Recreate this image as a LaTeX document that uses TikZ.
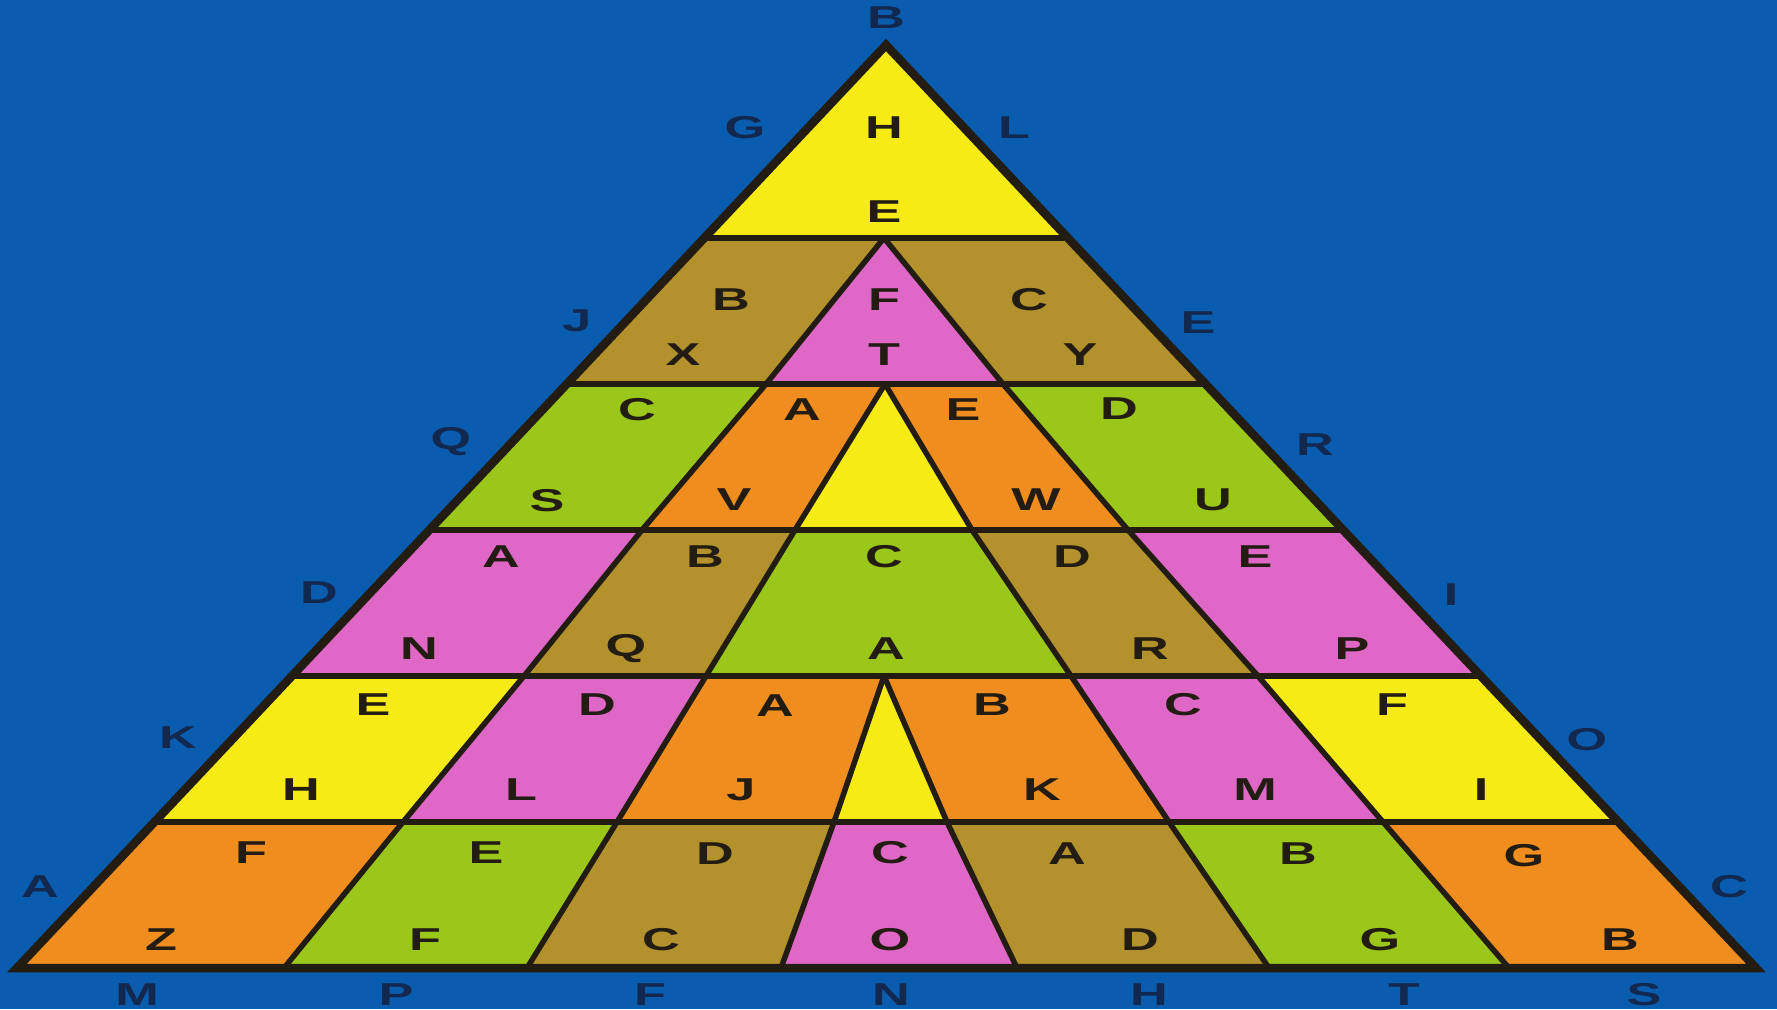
\documentclass[tikz,border=0pt]{standalone}
\usepackage{fontspec}
\usepackage{tikz}
\newfontfamily\puzzlefont[FakeStretch=1.65]{Liberation Sans}
\definecolor{sheetblue}{HTML}{0A5CAE}
\definecolor{cellyellow}{HTML}{F7EB15}
\definecolor{cellolive}{HTML}{B3922D}
\definecolor{cellpink}{HTML}{DF68C6}
\definecolor{cellgreen}{HTML}{9BC71B}
\definecolor{cellorange}{HTML}{F08D1F}
\definecolor{inkdark}{HTML}{221C12}
\definecolor{navyink}{HTML}{12284F}

\begin{document}
\begin{tikzpicture}[x=0.1mm, y=-0.1mm,
  seam/.style={draw=inkdark, line width=0.55mm, line join=round},
  rim/.style={draw=inkdark, line width=0.85mm, line join=miter},
  letter/.style={font=\puzzlefont\bfseries\fontsize{9pt}{9pt}\selectfont, text=inkdark, inner sep=0pt},
  rimletter/.style={letter, text=navyink}]
  \fill[sheetblue] (0,0) rectangle (1777,1009);
  \useasboundingbox (0,0) rectangle (1777,1009);

  \coordinate (apex) at (886,45);
  \coordinate (ol1) at (703,238);  \coordinate (or1) at (1064,238);
  \coordinate (ol2) at (567,384);  \coordinate (or2) at (1205,384);
  \coordinate (ol3) at (427,530);  \coordinate (or3) at (1341,530);
  \coordinate (ol4) at (293,676);  \coordinate (or4) at (1478,676);
  \coordinate (ol5) at (158,822);  \coordinate (or5) at (1617,822);
  \coordinate (ol6) at (17,968);   \coordinate (or6) at (1756,968);
  \coordinate (p1) at (884,238);
  \coordinate (a2) at (766,384); \coordinate (a3) at (642,530); \coordinate (a4) at (524,676);
  \coordinate (a5) at (403,822); \coordinate (a6) at (284,968);
  \coordinate (f2) at (1003,384); \coordinate (f3) at (1128,530); \coordinate (f4) at (1258,676);
  \coordinate (f5) at (1383,822); \coordinate (f6) at (1509,968);
  \coordinate (p2) at (885,384);
  \coordinate (b3) at (795,530); \coordinate (b4) at (706,676); \coordinate (b5) at (617,822); \coordinate (b6) at (527,968);
  \coordinate (e3) at (972,530); \coordinate (e4) at (1071,676); \coordinate (e5) at (1169,822); \coordinate (e6) at (1269,968);
  \coordinate (p4) at (884,676);
  \coordinate (c5) at (834,822); \coordinate (c6) at (781,968);
  \coordinate (d5) at (947,822); \coordinate (d6) at (1017,968);

  \fill[cellyellow] (apex) -- (or1) -- (ol1) -- cycle;
  \fill[cellolive] (ol1) -- (p1) -- (a2) -- (ol2) -- cycle;
  \fill[cellpink] (p1) -- (f2) -- (a2) -- cycle;
  \fill[cellolive] (p1) -- (or1) -- (or2) -- (f2) -- cycle;
  \fill[cellgreen] (ol2) -- (a2) -- (a3) -- (ol3) -- cycle;
  \fill[cellorange] (a2) -- (p2) -- (b3) -- (a3) -- cycle;
  \fill[cellyellow] (p2) -- (e3) -- (b3) -- cycle;
  \fill[cellorange] (p2) -- (f2) -- (f3) -- (e3) -- cycle;
  \fill[cellgreen] (f2) -- (or2) -- (or3) -- (f3) -- cycle;
  \fill[cellpink] (ol3) -- (a3) -- (a4) -- (ol4) -- cycle;
  \fill[cellolive] (a3) -- (b3) -- (b4) -- (a4) -- cycle;
  \fill[cellgreen] (b3) -- (e3) -- (e4) -- (b4) -- cycle;
  \fill[cellolive] (e3) -- (f3) -- (f4) -- (e4) -- cycle;
  \fill[cellpink] (f3) -- (or3) -- (or4) -- (f4) -- cycle;
  \fill[cellyellow] (ol4) -- (a4) -- (a5) -- (ol5) -- cycle;
  \fill[cellpink] (a4) -- (b4) -- (b5) -- (a5) -- cycle;
  \fill[cellorange] (b4) -- (p4) -- (c5) -- (b5) -- cycle;
  \fill[cellyellow] (p4) -- (d5) -- (c5) -- cycle;
  \fill[cellorange] (p4) -- (e4) -- (e5) -- (d5) -- cycle;
  \fill[cellpink] (e4) -- (f4) -- (f5) -- (e5) -- cycle;
  \fill[cellyellow] (f4) -- (or4) -- (or5) -- (f5) -- cycle;
  \fill[cellorange] (ol5) -- (a5) -- (a6) -- (ol6) -- cycle;
  \fill[cellgreen] (a5) -- (b5) -- (b6) -- (a6) -- cycle;
  \fill[cellolive] (b5) -- (c5) -- (c6) -- (b6) -- cycle;
  \fill[cellpink] (c5) -- (d5) -- (d6) -- (c6) -- cycle;
  \fill[cellolive] (d5) -- (e5) -- (e6) -- (d6) -- cycle;
  \fill[cellgreen] (e5) -- (f5) -- (f6) -- (e6) -- cycle;
  \fill[cellorange] (f5) -- (or5) -- (or6) -- (f6) -- cycle;

  \draw[seam] (ol1) -- (or1);
  \draw[seam] (ol2) -- (or2);
  \draw[seam] (ol3) -- (or3);
  \draw[seam] (ol4) -- (or4);
  \draw[seam] (ol5) -- (or5);
  \draw[seam] (p1) -- (a2) -- (a3) -- (a4) -- (a5) -- (a6);
  \draw[seam] (p1) -- (f2) -- (f3) -- (f4) -- (f5) -- (f6);
  \draw[seam] (p2) -- (b3) -- (b4) -- (b5) -- (b6);
  \draw[seam] (p2) -- (e3) -- (e4) -- (e5) -- (e6);
  \draw[seam] (p4) -- (c5) -- (c6);
  \draw[seam] (p4) -- (d5) -- (d6);
  \draw[rim] (apex) -- (or6) -- (ol6) -- cycle;

  \node[letter] (r0t) at (884,128) {H};
  \node[letter] (r0b) at (884,212) {E};
  \node[letter] (r1c1t) at (731,300) {B};
  \node[letter] (r1c1b) at (683,355) {X};
  \node[letter] (r1c2t) at (884,300) {F};
  \node[letter] (r1c2b) at (884,355) {T};
  \node[letter] (r1c3t) at (1029,300) {C};
  \node[letter] (r1c3b) at (1080,355) {Y};
  \node[letter] (r2c1t) at (637,410) {C};
  \node[letter] (r2c1b) at (547,501) {S};
  \node[letter] (r2c2t) at (802,410) {A};
  \node[letter] (r2c2b) at (734,500) {V};
  \node[letter] (r2c4t) at (963,410) {E};
  \node[letter] (r2c4b) at (1036,500) {W};
  \node[letter] (r2c5t) at (1119,409) {D};
  \node[letter] (r2c5b) at (1213,500) {U};
  \node[letter] (r3c1t) at (501,557) {A};
  \node[letter] (r3c1b) at (419,649) {N};
  \node[letter] (r3c2t) at (705,557) {B};
  \node[letter] (r3c2b) at (626,649) {Q};
  \node[letter] (r3c3t) at (884,557) {C};
  \node[letter] (r3c3b) at (886,649) {A};
  \node[letter] (r3c4t) at (1072,557) {D};
  \node[letter] (r3c4b) at (1150,649) {R};
  \node[letter] (r3c5t) at (1255,557) {E};
  \node[letter] (r3c5b) at (1352,649) {P};
  \node[letter] (r4c1t) at (373,705) {E};
  \node[letter] (r4c1b) at (301,790) {H};
  \node[letter] (r4c2t) at (597,705) {D};
  \node[letter] (r4c2b) at (521,790) {L};
  \node[letter] (r4c3t) at (775,706) {A};
  \node[letter] (r4c3b) at (741,790) {J};
  \node[letter] (r4c5t) at (992,705) {B};
  \node[letter] (r4c5b) at (1042,790) {K};
  \node[letter] (r4c6t) at (1183,705) {C};
  \node[letter] (r4c6b) at (1255,790) {M};
  \node[letter] (r4c7t) at (1392,705) {F};
  \node[letter] (r4c7b) at (1481,790) {I};
  \node[letter] (r5c1t) at (251,853) {F};
  \node[letter] (r5c1b) at (161,940) {Z};
  \node[letter] (r5c2t) at (486,853) {E};
  \node[letter] (r5c2b) at (425,940) {F};
  \node[letter] (r5c3t) at (715,854) {D};
  \node[letter] (r5c3b) at (661,940) {C};
  \node[letter] (r5c4t) at (890,853) {C};
  \node[letter] (r5c4b) at (890,940) {O};
  \node[letter] (r5c5t) at (1067,854) {A};
  \node[letter] (r5c5b) at (1140,940) {D};
  \node[letter] (r5c6t) at (1298,854) {B};
  \node[letter] (r5c6b) at (1380,940) {G};
  \node[letter] (r5c7t) at (1524,856) {G};
  \node[letter] (r5c7b) at (1620,940) {B};

  \node[rimletter] (out-B) at (886,18) {B};
  \node[rimletter] (out-G) at (745,128) {G};
  \node[rimletter] (out-L) at (1014,128) {L};
  \node[rimletter] (out-J) at (577,321) {J};
  \node[rimletter] (out-E) at (1198,323) {E};
  \node[rimletter] (out-Q) at (451,442) {Q};
  \node[rimletter] (out-R) at (1315,445) {R};
  \node[rimletter] (out-D) at (319,593) {D};
  \node[rimletter] (out-I) at (1451,595) {I};
  \node[rimletter] (out-K) at (178,738) {K};
  \node[rimletter] (out-O) at (1587,740) {O};
  \node[rimletter] (out-A) at (40,887) {A};
  \node[rimletter] (out-C) at (1729,887) {C};
  \node[rimletter] (out-M) at (137,995) {M};
  \node[rimletter] (out-P) at (396,995) {P};
  \node[rimletter] (out-F) at (650,995) {F};
  \node[rimletter] (out-N) at (891,995) {N};
  \node[rimletter] (out-H) at (1149,995) {H};
  \node[rimletter] (out-T) at (1404,995) {T};
  \node[rimletter] (out-S) at (1644,995) {S};
\end{tikzpicture}
\end{document}
